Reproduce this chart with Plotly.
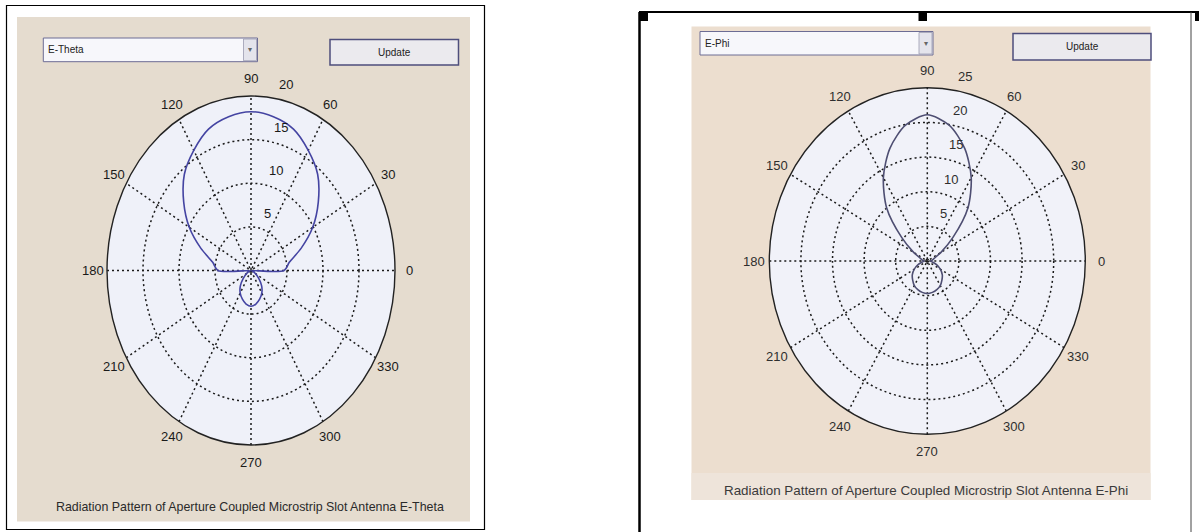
import numpy as np
import plotly.graph_objects as go

W, H = 1199, 532

# ---------------- data ----------------
theta_deg = list(range(0, 361, 10))
# E-Theta pattern (left panel)
e_theta_r = [4.6, 5.4, 7.4, 9.9, 12.2, 14.4, 15.9, 17.25, 17.9, 18.2,
             17.9, 17.25, 15.9, 14.4, 12.2, 9.9, 7.4, 5.4, 4.6,
             0.1, 0.3, 0.7, 1.4, 2.3, 3.0, 3.5, 3.9, 4.1,
             3.9, 3.5, 3.0, 2.3, 1.4, 0.7, 0.3, 0.1, 4.6]
# E-Phi pattern (right panel)
e_phi_r = [0.5, 0.8, 1.2, 2.5, 5.3, 10.0, 13.9, 17.3, 19.9, 21.1,
           19.9, 17.3, 13.9, 10.0, 5.3, 2.5, 1.2, 0.8, 0.5,
           0.8, 1.6, 2.4, 3.1, 3.6, 4.1, 4.4, 4.6, 4.7,
           4.6, 4.4, 4.1, 3.6, 3.1, 2.4, 1.6, 0.8, 0.5]
angle_ticks = [0, 30, 60, 90, 120, 150, 180, 210, 240, 270, 300, 330]
spoke_angles = [0, 30, 60, 90, 120, 150]
left_r_ticks = [5, 10, 15, 20]
right_r_ticks = [5, 10, 15, 20, 25]
left_title = "Radiation Pattern of Aperture Coupled Microstrip Slot Antenna E-Theta"
right_title = "Radiation Pattern of Aperture Coupled Microstrip Slot Antenna E-Phi"
left_menu, right_menu = "E-Theta", "E-Phi"
button_text = "Update"

# ---------------- layout helpers ----------------
def px(x):
    return x / W

def py(y):
    return 1 - y / H

FONT = "Liberation Sans, Arial, sans-serif"

panels = [
    dict(cx=251.0, cy=270.5, hs=144.0 / 20, vs=174.5 / 20, dom=(0, 600),
         r=e_theta_r, ticks=left_r_ticks, line="#4444a2", txt="#1a1a1a",
         fill="#eff1f9", xa="x", ya="y"),
    dict(cx=927.3, cy=261.0, hs=158.0 / 25, vs=173.2 / 25, dom=(600, W),
         r=e_phi_r, ticks=right_r_ticks, line="#4e4e72", txt="#2e2e2e",
         fill="#f1f2f9", xa="x2", ya="y2"),
]

fig = go.Figure()
shapes = []
annotations = []

def rect(x0, y0, x1, y1, fill=None, line=None, lw=1, layer="below"):
    shapes.append(dict(type="rect", xref="paper", yref="paper",
                       x0=px(x0), x1=px(x1), y0=py(y1), y1=py(y0),
                       fillcolor=fill if fill else "rgba(0,0,0,0)",
                       line=dict(color=line if line else "rgba(0,0,0,0)", width=lw if line else 0),
                       layer=layer))

def pline(x0, y0, x1, y1, color="black", lw=1):
    shapes.append(dict(type="line", xref="paper", yref="paper",
                       x0=px(x0), x1=px(x1), y0=py(y0), y1=py(y1),
                       line=dict(color=color, width=lw), layer="below"))

def ptext(x, y, text, size, color="#111", xanchor="center"):
    annotations.append(dict(xref="paper", yref="paper", x=px(x), y=py(y), text=text,
                            showarrow=False, xanchor=xanchor, yanchor="middle",
                            font=dict(family=FONT, size=size, color=color)))

# left panel
rect(17, 17, 470, 521.5, fill="#e5dccf")
rect(6.5, 5.5, 484.5, 529.5, line="black", lw=1.2)
# right panel
rect(691.5, 26.5, 1150.5, 500, fill="#ecdecf")
rect(691.5, 473, 1150.5, 500, fill="#eee4da")
pline(639, 12, 1197, 12, lw=2)
pline(639.5, 12, 639.5, 532, lw=2.5)
pline(1191, 12, 1191, 532, color="#444", lw=1)
rect(639, 11, 648, 21, fill="black")
rect(918.5, 11, 927, 21, fill="black")
rect(1195, 11, 1199, 21, fill="black")

# dropdowns and buttons
for (dx0, dy0, dx1, dy1, label, bx0, by0, bx1, by1) in [
        (43.3, 38, 257.5, 61.7, left_menu, 330, 39.5, 458.5, 65),
        (700, 31.5, 933, 55, right_menu, 1013, 33.5, 1151, 60)]:
    rect(dx0, dy0, dx1, dy1, fill="#f7f7fb", line="#6c6c94", lw=1)
    rect(dx1 - 14, dy0 + 1, dx1 - 1, dy1 - 1, fill="#e4e4ec", line="#9a9ab0", lw=0.8)
    ptext(dx1 - 7.5, (dy0 + dy1) / 2, "▾", 8, color="#666")
    ptext(dx0 + 3, (dy0 + dy1) / 2, label, 10, color="#222", xanchor="left")
    rect(bx0, by0, bx1, by1, fill="#ebeaee", line="#4e4e7c", lw=1.5)
    ptext((bx0 + bx1) / 2, (by0 + by1) / 2, button_text, 10, color="#222")

ptext(250.0, 506.5, left_title, 12.4, color="#2a2a2a")
ptext(925.5, 490.5, right_title, 13.4, color="#3a3a3a")

# ---- polar plots drawn on cartesian axes (as MATLAB polar does) ----
layout_axes = {}
c82, s82 = np.cos(np.deg2rad(82)), np.sin(np.deg2rad(82))
GRID = dict(color="#1a1a1a", width=1.5, dash="2px,3px")
for i, p in enumerate(panels):
    rmax = p["ticks"][-1]
    xname = "xaxis" if i == 0 else "xaxis2"
    yname = "yaxis" if i == 0 else "yaxis2"
    d0, d1 = p["dom"]
    layout_axes[xname] = dict(domain=[px(d0), px(d1)],
                              range=[(d0 - p["cx"]) / p["hs"], (d1 - p["cx"]) / p["hs"]],
                              visible=False, fixedrange=True, anchor=p["ya"])
    layout_axes[yname] = dict(domain=[0, 1],
                              range=[(p["cy"] - H) / p["vs"], p["cy"] / p["vs"]],
                              visible=False, fixedrange=True, anchor=p["xa"])
    shapes.append(dict(type="circle", xref=p["xa"], yref=p["ya"],
                       x0=-rmax, x1=rmax, y0=-rmax, y1=rmax,
                       fillcolor=p["fill"], line=dict(width=0), layer="below"))
    for t in p["ticks"][:-1]:
        shapes.append(dict(type="circle", xref=p["xa"], yref=p["ya"],
                           x0=-t, x1=t, y0=-t, y1=t, line=GRID, layer="below"))
    for a in spoke_angles:
        ca, sa = np.cos(np.deg2rad(a)), np.sin(np.deg2rad(a))
        shapes.append(dict(type="line", xref=p["xa"], yref=p["ya"],
                           x0=-rmax * ca, x1=rmax * ca, y0=-rmax * sa, y1=rmax * sa,
                           line=GRID, layer="below"))
    shapes.append(dict(type="circle", xref=p["xa"], yref=p["ya"],
                       x0=-rmax, x1=rmax, y0=-rmax, y1=rmax,
                       line=dict(color="#222", width=1.4), layer="below"))
    for a in angle_ticks:
        annotations.append(dict(xref=p["xa"], yref=p["ya"],
                                x=1.1 * rmax * np.cos(np.deg2rad(a)),
                                y=1.1 * rmax * np.sin(np.deg2rad(a)),
                                text=str(a), showarrow=False,
                                xanchor="center", yanchor="middle",
                                font=dict(family=FONT, size=13, color=p["txt"])))
    rinc = p["ticks"][1] - p["ticks"][0]
    for t in p["ticks"]:
        rr = t + rinc / 20
        annotations.append(dict(xref=p["xa"], yref=p["ya"],
                                x=rr * c82, y=rr * s82, text=str(t), showarrow=False,
                                xanchor="left", yanchor="bottom", xshift=6, yshift=2,
                                font=dict(family=FONT, size=13, color=p["txt"])))
    th = np.deg2rad(np.array(theta_deg, dtype=float))
    r = np.array(p["r"], dtype=float)
    fig.add_trace(go.Scatter(x=r * np.cos(th), y=r * np.sin(th), mode="lines",
                             line=dict(color=p["line"], width=1.6, shape="spline", smoothing=0.8),
                             xaxis=p["xa"], yaxis=p["ya"], showlegend=False,
                             hoverinfo="skip"))

fig.update_layout(width=W, height=H, margin=dict(l=0, r=0, t=0, b=0),
                  paper_bgcolor="white", plot_bgcolor="rgba(0,0,0,0)",
                  shapes=shapes, annotations=annotations, showlegend=False,
                  **layout_axes)
fig.write_html("out.html", config={"displayModeBar": False, "staticPlot": True},
               post_script="document.body.style.margin='0px';document.body.style.overflow='hidden';")
